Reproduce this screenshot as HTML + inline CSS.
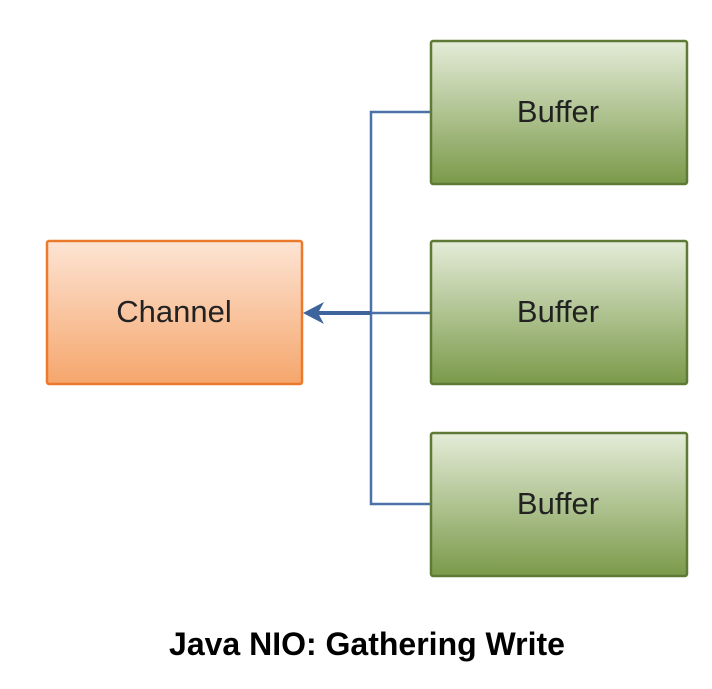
<!DOCTYPE html>
<html><head><meta charset="utf-8"><style>
body{margin:0;background:#fff;width:712px;height:684px;overflow:hidden;font-family:"Liberation Sans",sans-serif}
</style></head><body>
<svg width="712" height="684" xmlns="http://www.w3.org/2000/svg">
<defs>
<linearGradient id="g" x1="0" y1="0" x2="0" y2="1"><stop offset="0" stop-color="#e4ecd8"/><stop offset="1" stop-color="#7b9a4a"/></linearGradient>
<linearGradient id="o" x1="0" y1="0" x2="0" y2="1"><stop offset="0" stop-color="#fde4d4"/><stop offset="1" stop-color="#f5a66c"/></linearGradient>
</defs>
<rect x="47" y="241" width="255" height="143" rx="2" fill="url(#o)" stroke="#ec7a2c" stroke-width="2.5"/>
<text x="174" y="322" font-size="31" text-anchor="middle" fill="#222">Channel</text>
<rect x="431" y="41" width="256" height="143" rx="2" fill="url(#g)" stroke="#5f7a37" stroke-width="2.5"/>
<rect x="431" y="241" width="256" height="143" rx="2" fill="url(#g)" stroke="#5f7a37" stroke-width="2.5"/>
<rect x="431" y="433" width="256" height="143" rx="2" fill="url(#g)" stroke="#5f7a37" stroke-width="2.5"/>
<text x="558" y="122" font-size="31" text-anchor="middle" fill="#222">Buffer</text>
<text x="558" y="322" font-size="31" text-anchor="middle" fill="#222">Buffer</text>
<text x="558" y="514" font-size="31" text-anchor="middle" fill="#222">Buffer</text>
<path d="M430 112 H371 V504 H430" fill="none" stroke="#4a72a8" stroke-width="2.5"/>
<line x1="430" y1="313" x2="371" y2="313" stroke="#4a72a8" stroke-width="2.5"/>
<line x1="371" y1="313" x2="312" y2="313" stroke="#3d659c" stroke-width="4"/>
<path d="M303 313 L324 302 L318 313 L324 324 Z" fill="#3d659c"/>
<text x="367" y="655" font-size="32" font-weight="bold" text-anchor="middle" fill="#000">Java NIO: Gathering Write</text>
</svg>
</body></html>
